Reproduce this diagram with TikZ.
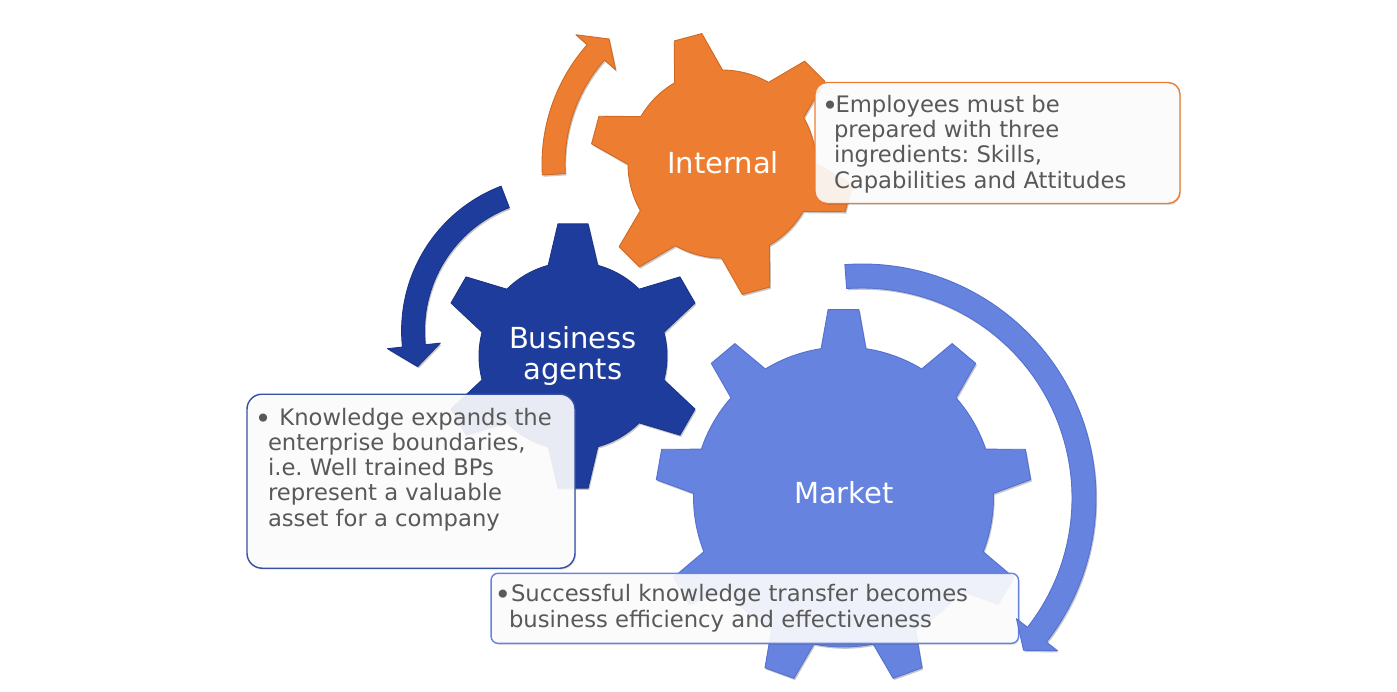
\documentclass[tikz,border=0pt]{standalone}
\usepackage{fontspec}
\setmainfont{DejaVu Sans}
\usetikzlibrary{shadows}
\frenchspacing

\definecolor{orangeA}{HTML}{ED7D31}
\definecolor{orangeL}{HTML}{CF6A22}
\definecolor{navyA}{HTML}{1E3C9B}
\definecolor{navyL}{HTML}{1A3488}
\definecolor{skyA}{HTML}{6783E0}
\definecolor{skyL}{HTML}{5470D0}
\definecolor{bodytext}{HTML}{595959}

% larger list bullet, lowered onto the x-height
\newcommand\listdot{{\fontsize{28}{28}\selectfont\raisebox{-3pt}{\textbullet}}}

% gear outline: style, centre x, centre y, outer radius, body radius,
% teeth, angle of first tooth, half width of tooth tip, half width of tooth root
\newcommand\gearshape[9]{%
  \path[#1, shift={(#2,#3)}] ({#7-#9}:#5)
    \foreach \k in {1,...,#6} {
      -- ({#7+(\k-1)*360/#6-#8}:#4) -- ({#7+(\k-1)*360/#6+#8}:#4)
      -- ({#7+(\k-1)*360/#6+#9}:#5)
      arc[start angle={#7+(\k-1)*360/#6+#9}, end angle={#7+\k*360/#6-#9}, radius=#5]
    } -- cycle;
}

% curved block arrow: style, centre x, centre y, inner radius, outer radius,
% tail angle, head base angle, tip angle, barb overhang
\newcommand\roundarrow[9]{%
  \path[#1, shift={(#2,#3)}] ({#6}:#5) arc[start angle=#6, end angle=#7, radius=#5]
    -- ({#7}:{#5+#9}) -- ({#8}:{(#4+#5)/2}) -- ({#7}:{#4-#9}) -- ({#7}:#4)
    arc[start angle=#7, end angle=#6, radius=#4] -- cycle;
}

\begin{document}
\begin{tikzpicture}[x=1pt, y=-1pt,
  every node/.style={inner sep=0pt, outer sep=0pt},
  softshadow/.style={drop shadow={shadow xshift=1.2pt, shadow yshift=-1.8pt, opacity=0.22, fill=black}},
  gearO/.style={fill=orangeA, draw=orangeL, line width=0.9pt, line join=round, softshadow},
  gearN/.style={fill=navyA, draw=navyL, line width=0.9pt, line join=round, softshadow},
  gearS/.style={fill=skyA, draw=skyL, line width=0.9pt, line join=round, softshadow},
  glabel/.style={text=white, font=\fontsize{29}{31.7}\selectfont, align=center},
  notebox/.style={rectangle, rounded corners=#1, line width=1.4pt, fill=white, fill opacity=0.9,
    drop shadow={shadow xshift=1pt, shadow yshift=-1.5pt, opacity=0.12, fill=black}},
  notetext/.style={text=bodytext, font=\fontsize{22.7}{25.3}\selectfont, align=left, anchor=north west}]

\fill[white] (0,0) rectangle (1397,692);
\useasboundingbox (0,0) rectangle (1397,692);

% the three gears
\gearshape{gearO}{722}{164}{132}{94}{6}{-105}{6.2}{15.3}
\gearshape{gearN}{573}{356}{133}{94}{6}{-90}{6.5}{15.3}
\gearshape{gearS}{843.5}{497}{188}{150}{9}{-90}{4.7}{8.6}

% gear names
\node[glabel, anchor=base] (internal) at (723,173.3) {Internal};
\node[glabel, anchor=north] (agents) at (573,325.3) {\rule{0pt}{23pt}Business\\agents};
\node[glabel, anchor=base] (market) at (844,503.3) {Market};

% callouts
\node[notebox=12pt, draw=orangeA, minimum width=365pt, minimum height=121pt] (noteInternal) at (997.5,143) {};
\node[notebox=15pt, draw=navyA!90!white, minimum width=328pt, minimum height=174pt] (noteAgents) at (411,481.2) {};
\node[notebox=7pt, draw=skyA, minimum width=527.5pt, minimum height=70pt] (noteMarket) at (754.8,608.3) {};

\node[notetext] (txtInternal) at (834,94.3)
  {\rule{0pt}{18pt}\llap{\listdot\kern-4.4pt}\hspace*{1.5pt}Employees must be\\prepared with three\\ingredients: Skills,\\Capabilities and Attitudes};
\node[notetext] (txtAgents) at (268,407)
  {\rule{0pt}{18pt}\llap{\listdot\kern-3.4pt}\hspace*{11.4pt}Knowledge expands the\\enterprise boundaries,\\i.e. Well trained BPs\\represent a valuable\\asset for a company};
\node[notetext] (txtMarket) at (509,583.7)
  {\rule{0pt}{18pt}\llap{\listdot\kern-2.2pt}\hspace*{2pt}Successful knowledge transfer becomes\\business efficiency and effectiveness};

% rotation arrows
\roundarrow{gearO}{722}{164}{157}{180}{-183.5}{-138.5}{-132.1}{15}
\roundarrow{gearN}{556.6}{330.9}{132}{155}{-111}{-186}{-194.4}{15}
\roundarrow{gearS}{862}{498}{210}{234}{-94.2}{38}{43.3}{14}

\end{tikzpicture}
\end{document}
